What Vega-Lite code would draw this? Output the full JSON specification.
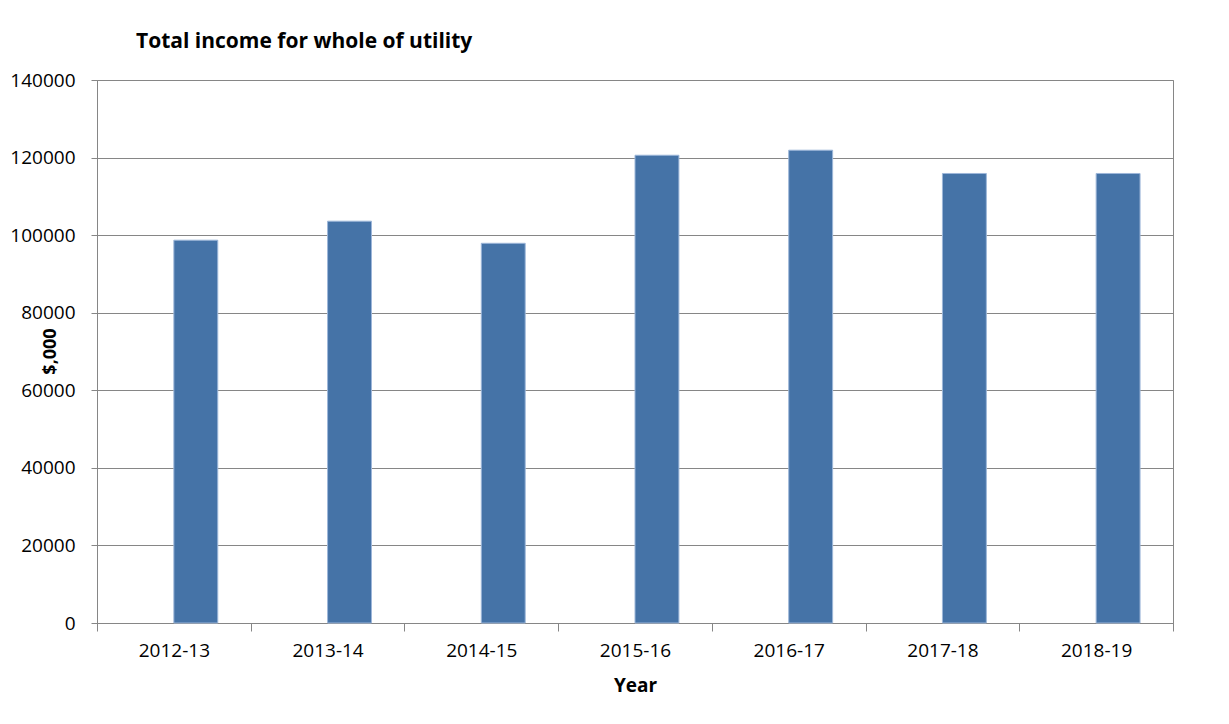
{
  "$schema": "https://vega.github.io/schema/vega-lite/v6.json",
  "width": 1076,
  "height": 543,
  "autosize": "none",
  "padding": {"left": 97, "top": 80, "right": 56, "bottom": 101},
  "background": "white",
  "title": {
    "text": "Total income for whole of utility",
    "anchor": "start",
    "frame": "group",
    "dx": 39,
    "offset": 2,
    "baseline": "alphabetic",
    "font": "Open Sans",
    "fontSize": 21,
    "fontWeight": "bold",
    "color": "#000000"
  },
  "data": {
    "values": [
      {"year": "2012-13", "series": "Income", "value": 98700},
      {"year": "2013-14", "series": "Income", "value": 103600},
      {"year": "2014-15", "series": "Income", "value": 97900},
      {"year": "2015-16", "series": "Income", "value": 120600},
      {"year": "2016-17", "series": "Income", "value": 121900},
      {"year": "2017-18", "series": "Income", "value": 115900},
      {"year": "2018-19", "series": "Income", "value": 115900}
    ]
  },
  "mark": {"type": "bar", "color": "#4573A7", "stroke": "#9DB7D9", "strokeWidth": 1},
  "encoding": {
    "x": {
      "field": "year",
      "type": "nominal",
      "sort": null,
      "scale": {"paddingInner": 0, "paddingOuter": 0},
      "axis": {
        "title": "Year",
        "titleFont": "Open Sans",
        "titleFontSize": 19,
        "titleFontWeight": "bold",
        "titleColor": "#000000",
        "titleY": 62,
        "titleBaseline": "middle",
        "labelAngle": 0,
        "labelFont": "Open Sans",
        "labelFontSize": 19,
        "labelColor": "#000000",
        "labelPadding": 10,
        "tickBand": "extent",
        "tickSize": 8,
        "tickColor": "#868686",
        "domainColor": "#868686",
        "grid": false
      }
    },
    "xOffset": {
      "field": "series",
      "type": "nominal",
      "scale": {"domain": ["Blank", "Income"], "paddingInner": 0, "paddingOuter": 0.75}
    },
    "y": {
      "field": "value",
      "type": "quantitative",
      "scale": {"domain": [0, 140000], "nice": false},
      "axis": {
        "values": [0, 20000, 40000, 60000, 80000, 100000, 120000, 140000],
        "format": "d",
        "title": "$,000",
        "titleFont": "Open Sans",
        "titleFontSize": 18,
        "titleFontWeight": "bold",
        "titleColor": "#000000",
        "titleAngle": -90,
        "titleX": -47,
        "titleY": 271,
        "titleAlign": "center",
        "titleBaseline": "middle",
        "labelFont": "Open Sans",
        "labelFontSize": 19,
        "labelColor": "#000000",
        "labelPadding": 16,
        "tickSize": 6,
        "tickColor": "#868686",
        "domainColor": "#868686",
        "gridColor": "#868686",
        "gridOpacity": 1
      }
    }
  },
  "config": {"view": {"stroke": "#868686", "strokeWidth": 1}}
}
